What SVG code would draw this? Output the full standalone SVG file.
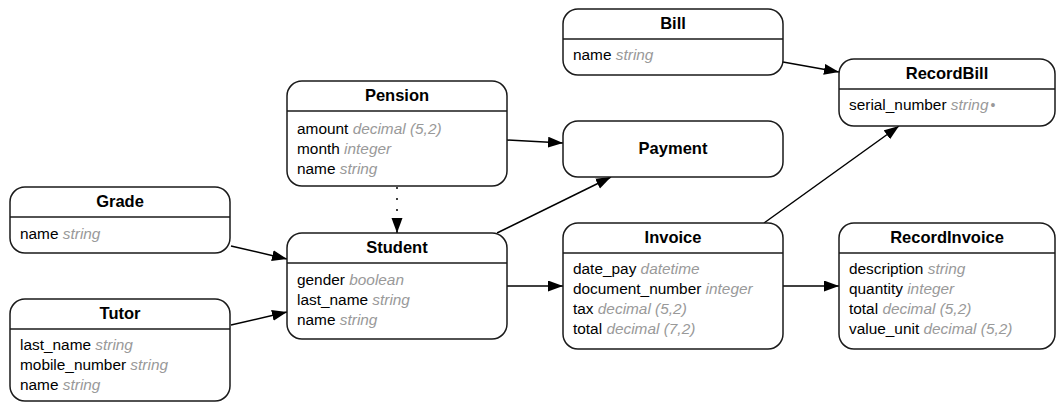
<svg xmlns="http://www.w3.org/2000/svg" width="1056" height="403" viewBox="0 0 1056 403">
<style>
  .box { fill: #ffffff; stroke: #1a1a1a; stroke-width: 1.5; }
  .div { stroke: #1a1a1a; stroke-width: 1.5; }
  .title { font-family: "Liberation Sans", Arial, sans-serif; font-size: 16.5px; font-weight: bold; fill: #000; text-anchor: middle; }
  .f { font-family: "Liberation Sans", Arial, sans-serif; font-size: 15.4px; fill: #000; }
  .t { fill: #999999; font-style: italic; }
  .dot { fill: #999999; font-size: 14px; font-style: normal; }
  .edge { fill: none; stroke: #000; stroke-width: 1.5; }
  .dotted { stroke-dasharray: 2 9; }
</style>
<defs>
  <marker id="arr" markerUnits="userSpaceOnUse" markerWidth="16" markerHeight="12" refX="15" refY="5.5" orient="auto">
    <path d="M0,0 L15,5.5 L0,11 z" fill="#000"/>
  </marker>
</defs>

<g id="connectors">
  <path class="edge" d="M783,62 L839,72" marker-end="url(#arr)"/>
  <path class="edge" d="M507,140 L563,143" marker-end="url(#arr)"/>
  <path class="edge dotted" d="M397,187 L397,233" marker-end="url(#arr)"/>
  <path class="edge" d="M231,246 L287,259" marker-end="url(#arr)"/>
  <path class="edge" d="M231,325 L287,312" marker-end="url(#arr)"/>
  <path class="edge" d="M497,233 L611,177" marker-end="url(#arr)"/>
  <path class="edge" d="M507,286 L563,286" marker-end="url(#arr)"/>
  <path class="edge" d="M764,223 L899,126" marker-end="url(#arr)"/>
  <path class="edge" d="M783,286 L839,286" marker-end="url(#arr)"/>
</g>

<g id="Bill">
  <rect class="box" x="563" y="9" width="220" height="66" rx="15"/>
  <line class="div" x1="563" y1="39" x2="783" y2="39"/>
  <text class="title" x="673" y="29">Bill</text>
  <text class="f" x="573" y="60">name <tspan class="t">string</tspan></text>
</g>

<g id="RecordBill">
  <rect class="box" x="839" y="59" width="216" height="67" rx="15"/>
  <line class="div" x1="839" y1="89" x2="1055" y2="89"/>
  <text class="title" x="947" y="79">RecordBill</text>
  <text class="f" x="849" y="110">serial_number <tspan class="t">string</tspan><tspan class="dot" dx="2">•</tspan></text>
</g>

<g id="Pension">
  <rect class="box" x="287" y="81" width="220" height="105" rx="15"/>
  <line class="div" x1="287" y1="111" x2="507" y2="111"/>
  <text class="title" x="397" y="101">Pension</text>
  <text class="f" x="297" y="134">amount <tspan class="t">decimal (5,2)</tspan></text>
  <text class="f" x="297" y="154">month <tspan class="t">integer</tspan></text>
  <text class="f" x="297" y="174">name <tspan class="t">string</tspan></text>
</g>

<g id="Payment">
  <rect class="box" x="563" y="121" width="220" height="56" rx="15"/>
  <text class="title" x="673" y="154">Payment</text>
</g>

<g id="Grade">
  <rect class="box" x="10" y="187" width="220" height="66" rx="15"/>
  <line class="div" x1="10" y1="217" x2="230" y2="217"/>
  <text class="title" x="120" y="207">Grade</text>
  <text class="f" x="20" y="239">name <tspan class="t">string</tspan></text>
</g>

<g id="Student">
  <rect class="box" x="287" y="233" width="220" height="106" rx="15"/>
  <line class="div" x1="287" y1="263" x2="507" y2="263"/>
  <text class="title" x="397" y="253">Student</text>
  <text class="f" x="297" y="285">gender <tspan class="t">boolean</tspan></text>
  <text class="f" x="297" y="305">last_name <tspan class="t">string</tspan></text>
  <text class="f" x="297" y="325">name <tspan class="t">string</tspan></text>
</g>

<g id="Invoice">
  <rect class="box" x="563" y="223" width="220" height="126" rx="15"/>
  <line class="div" x1="563" y1="253" x2="783" y2="253"/>
  <text class="title" x="673" y="243">Invoice</text>
  <text class="f" x="573" y="274">date_pay <tspan class="t">datetime</tspan></text>
  <text class="f" x="573" y="294">document_number <tspan class="t">integer</tspan></text>
  <text class="f" x="573" y="314">tax <tspan class="t">decimal (5,2)</tspan></text>
  <text class="f" x="573" y="334">total <tspan class="t">decimal (7,2)</tspan></text>
</g>

<g id="RecordInvoice">
  <rect class="box" x="839" y="223" width="216" height="126" rx="15"/>
  <line class="div" x1="839" y1="253" x2="1055" y2="253"/>
  <text class="title" x="947" y="243">RecordInvoice</text>
  <text class="f" x="849" y="274">description <tspan class="t">string</tspan></text>
  <text class="f" x="849" y="294">quantity <tspan class="t">integer</tspan></text>
  <text class="f" x="849" y="314">total <tspan class="t">decimal (5,2)</tspan></text>
  <text class="f" x="849" y="334">value_unit <tspan class="t">decimal (5,2)</tspan></text>
</g>

<g id="Tutor">
  <rect class="box" x="10" y="299" width="220" height="102" rx="15"/>
  <line class="div" x1="10" y1="329" x2="230" y2="329"/>
  <text class="title" x="120" y="319">Tutor</text>
  <text class="f" x="20" y="350">last_name <tspan class="t">string</tspan></text>
  <text class="f" x="20" y="370">mobile_number <tspan class="t">string</tspan></text>
  <text class="f" x="20" y="390">name <tspan class="t">string</tspan></text>
</g>
</svg>
